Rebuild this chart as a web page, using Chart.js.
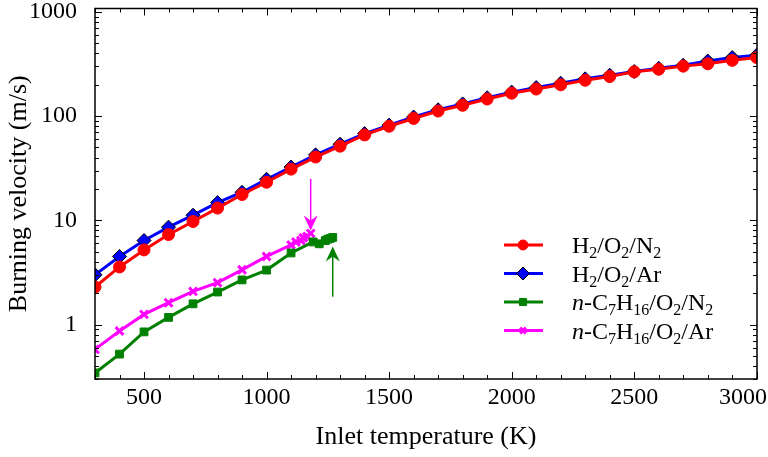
<!DOCTYPE html>
<html lang="en">

<head>
  <meta charset="UTF-8" />
  <title>Burning velocity vs inlet temperature</title>
  <script src="https://cdn.jsdelivr.net/npm/chart.js"></script>
  <style>
    body { margin: 0; background: #fff; }
  </style>
</head>

<body>
  <canvas id="velChart" width="768" height="457"></canvas>

  <script>
    // Inlet temperature (K) for the hydrogen series
    const tempsH2 = [300, 400, 500, 600, 700, 800, 900, 1000, 1100, 1200, 1300, 1400, 1500, 1600,
      1700, 1800, 1900, 2000, 2100, 2200, 2300, 2400, 2500, 2600, 2700, 2800, 2900, 3000];
    // Burning velocity (m/s)
    const velH2N2 = [2.29, 3.57, 5.2, 7.3, 9.75, 13.1, 17.7, 23.2, 31, 40.5, 51.5, 66, 80, 95,
      112, 127, 146, 166, 182, 200, 221, 240, 266, 282, 302, 318, 343, 365];
    const velH2Ar = [3.0, 4.5, 6.4, 8.6, 11.2, 14.8, 18.6, 24.8, 32.5, 42.5, 53.8, 68, 82, 98,
      115, 131, 150, 170, 188, 207, 228, 247, 268, 288, 308, 338, 365, 385];

    // n-heptane series
    const tempsC7N2 = [300, 400, 500, 600, 700, 800, 900, 1000, 1100, 1190, 1215, 1240, 1250, 1260, 1270];
    const velC7N2 = [0.343, 0.52, 0.85, 1.17, 1.58, 2.05, 2.68, 3.33, 4.86, 6.2, 5.95, 6.4, 6.6, 6.7, 6.85];
    const tempsC7Ar = [300, 400, 500, 600, 700, 800, 900, 1000, 1100, 1120, 1140, 1150, 1165, 1180];
    const velC7Ar = [0.578, 0.867, 1.25, 1.62, 2.08, 2.52, 3.35, 4.5, 5.8, 6.2, 6.4, 6.8, 7.0, 7.5];

    // Arrows marking the end of each n-heptane branch: [T, from v, to v]
    const arrowAr = [1180, 25, 8.0];
    const arrowN2 = [1270, 1.85, 5.6];

    const xTicks = [500, 1000, 1500, 2000, 2500, 3000];
    const yTicks = [1, 10, 100, 1000];

    // legend labels as rich text pieces (sub = subscript, it = italic)
    const legendLabels = [
      [['H'], ['2', 'sub'], ['/O'], ['2', 'sub'], ['/N'], ['2', 'sub']],
      [['H'], ['2', 'sub'], ['/O'], ['2', 'sub'], ['/Ar']],
      [['n', 'it'], ['-C'], ['7', 'sub'], ['H'], ['16', 'sub'], ['/O'], ['2', 'sub'], ['/N'], ['2', 'sub']],
      [['n', 'it'], ['-C'], ['7', 'sub'], ['H'], ['16', 'sub'], ['/O'], ['2', 'sub'], ['/Ar']]
    ];

    const FONT = '"Liberation Serif", "Times New Roman", serif';

    function pts(xs, ys) {
      return xs.map((x, i) => ({ x: x, y: ys[i] }));
    }

    const series = [
      { data: pts(tempsH2, velH2N2), color: '#ff0000', style: 'circle', radius: 6, lr: 5, pborder: '#ff0000', pbw: 1 },
      { data: pts(tempsH2, velH2Ar), color: '#0000ff', style: 'rectRot', radius: 7, lr: 6.5, pborder: '#000000', pbw: 1 },
      { data: pts(tempsC7N2, velC7N2), color: '#008000', style: 'rect', radius: 5.5, lr: 5, pborder: '#008000', pbw: 1 },
      { data: pts(tempsC7Ar, velC7Ar), color: '#ff00ff', style: 'crossRot', radius: 5.5, lr: 4, pborder: '#ff00ff', pbw: 3 }
    ];

    // inward ticks on all four sides + frame + x tick labels
    const frameTicks = {
      id: 'frameTicks',
      afterDraw(chart) {
        const { ctx, chartArea: { left, right, top, bottom }, scales: { x, y } } = chart;
        ctx.save();
        ctx.strokeStyle = '#000';
        ctx.lineWidth = 1;
        ctx.beginPath();
        for (let t = 300; t <= 3000; t += 100) {
          const px = Math.round(x.getPixelForValue(t)) + 0.5;
          const len = t % 500 === 0 ? 7 : 4;
          ctx.moveTo(px, bottom); ctx.lineTo(px, bottom - len);
          ctx.moveTo(px, top); ctx.lineTo(px, top + len);
        }
        for (const d of [0.1, 1, 10, 100, 1000]) {
          for (let m = 1; m <= 9; m++) {
            const v = m * d;
            if (v < y.min || v > y.max) continue;
            const py = Math.round(y.getPixelForValue(v)) + 0.5;
            const len = m === 1 ? 7 : 4;
            ctx.moveTo(left, py); ctx.lineTo(left + len, py);
            ctx.moveTo(right, py); ctx.lineTo(right - len, py);
          }
        }
        ctx.stroke();
        ctx.lineWidth = 1.5;
        ctx.strokeRect(left, top, right - left, bottom - top);

        // x tick labels, last one kept inside the canvas
        ctx.fillStyle = '#000';
        ctx.font = '24px ' + FONT;
        ctx.textAlign = 'center';
        ctx.textBaseline = 'middle';
        xTicks.forEach(v => {
          const label = String(v);
          const w = ctx.measureText(label).width;
          let px = x.getPixelForValue(v);
          px = Math.min(px, chart.width - 1 - w / 2);
          ctx.fillText(label, px, bottom + 19);
        });
        ctx.restore();
      }
    };

    function drawArrow(ctx, xs, ys, a, color) {
      const px = xs.getPixelForValue(a[0]);
      const y0 = ys.getPixelForValue(a[1]);
      const y1 = ys.getPixelForValue(a[2]);
      const dir = y1 > y0 ? 1 : -1;
      ctx.strokeStyle = color;
      ctx.fillStyle = color;
      ctx.lineWidth = 1.5;
      ctx.beginPath();
      ctx.moveTo(px, y0);
      ctx.lineTo(px, y1 - dir * 8);
      ctx.stroke();
      ctx.beginPath();
      ctx.moveTo(px, y1);
      ctx.lineTo(px - 7, y1 - dir * 15);
      ctx.lineTo(px, y1 - dir * 10);
      ctx.lineTo(px + 7, y1 - dir * 15);
      ctx.closePath();
      ctx.fill();
    }

    const arrows = {
      id: 'arrows',
      afterDatasetsDraw(chart) {
        const { ctx, scales: { x, y } } = chart;
        ctx.save();
        drawArrow(ctx, x, y, arrowAr, '#ff00ff');
        drawArrow(ctx, x, y, arrowN2, '#008000');
        ctx.restore();
      }
    };

    const richLegend = {
      id: 'richLegend',
      afterDraw(chart) {
        const ctx = chart.ctx;
        ctx.save();
        ctx.textBaseline = 'alphabetic';
        legendLabels.forEach((parts, i) => {
          const s = series[i];
          const cy = 245 + i * 28.5;
          ctx.strokeStyle = s.color;
          ctx.lineWidth = 3;
          ctx.beginPath();
          ctx.moveTo(504, cy);
          ctx.lineTo(543, cy);
          ctx.stroke();
          ctx.fillStyle = s.color;
          ctx.strokeStyle = s.pborder;
          ctx.lineWidth = s.pbw;
          Chart.helpers.drawPoint(ctx, { pointStyle: s.style, radius: s.lr, rotation: 0, borderWidth: s.pbw }, 523, cy);
          let tx = 572;
          const base = cy + 8;
          ctx.fillStyle = '#000';
          parts.forEach(([t, kind]) => {
            if (kind === 'sub') {
              ctx.font = '16px ' + FONT;
              ctx.fillText(t, tx, base + 5);
            } else if (kind === 'it') {
              ctx.font = 'italic 24px ' + FONT;
              ctx.fillText(t, tx, base);
            } else {
              ctx.font = '24px ' + FONT;
              ctx.fillText(t, tx, base);
            }
            tx += ctx.measureText(t).width;
          });
        });
        ctx.restore();
      }
    };

    new Chart(document.getElementById('velChart'), {
      type: 'line',
      data: {
        datasets: series.map(s => ({
          data: s.data,
          borderColor: s.color,
          backgroundColor: s.color,
          borderWidth: 3,
          pointStyle: s.style,
          pointRadius: s.radius,
          pointBackgroundColor: s.color,
          pointBorderColor: s.pborder,
          pointBorderWidth: s.pbw,
          tension: 0,
          fill: false
        }))
      },
      options: {
        responsive: false,
        animation: false,
        events: [],
        layout: { padding: { top: 7, right: 11, left: 0, bottom: 0 } },
        plugins: { legend: { display: false }, tooltip: { enabled: false } },
        scales: {
          x: {
            type: 'linear',
            min: 300,
            max: 3001,
            grid: { display: false },
            border: { display: false },
            afterBuildTicks: s => { s.ticks = xTicks.map(v => ({ value: v })); },
            afterFit: s => { s.height = 78; s.paddingLeft = 0; s.paddingRight = 0; },
            ticks: { color: 'rgba(0,0,0,0)', font: { family: FONT, size: 24 }, padding: 6, maxRotation: 0, callback: v => String(v) },
            title: { display: true, text: 'Inlet temperature (K)', color: '#000', font: { family: FONT, size: 26 }, padding: { top: 2 } }
          },
          y: {
            type: 'logarithmic',
            min: 0.334,
            max: 1079,
            grid: { display: false },
            border: { display: false },
            afterBuildTicks: s => { s.ticks = yTicks.map(v => ({ value: v })); },
            afterFit: s => { s.width = 95; s.paddingTop = 0; s.paddingBottom = 0; },
            ticks: { color: '#000', font: { family: FONT, size: 24 }, padding: 10, callback: v => String(v) },
            title: { display: true, text: 'Burning velocity (m/s)', color: '#000', font: { family: FONT, size: 26 }, padding: { bottom: 0 } }
          }
        }
      },
      plugins: [frameTicks, arrows, richLegend]
    });
  </script>
</body>

</html>
